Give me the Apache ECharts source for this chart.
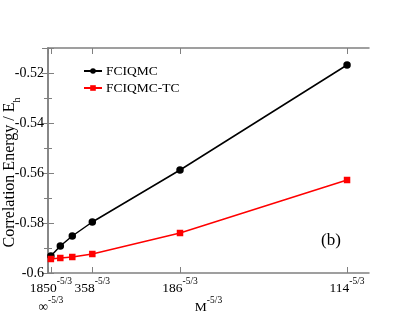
<!DOCTYPE html>
<html><head><meta charset="utf-8">
<script src="https://cdn.jsdelivr.net/npm/echarts@6/dist/echarts.min.js"></script>
<style>html,body{margin:0;padding:0;background:#fff}#c{width:415px;height:321px}</style>
</head><body><div id="c"></div>
<script>
// x positions in units of 1e-4 (M^-5/3 * 1e4)
var xVals = [0.0359, 0.1535, 0.303, 0.553, 1.647, 3.731];
var fciqmc = [-0.5932, -0.5892, -0.5852, -0.5796, -0.5588, -0.5168];
var fciqmcTC = [-0.5944, -0.5940, -0.5936, -0.5924, -0.5840, -0.5628];
var tickVals = [0, 0.0359, 0.553, 1.647, 3.731];
var tickLabels = ['∞', '1850', '358', '186', '114'];

var FONT = '"Liberation Serif", "Times New Roman", serif';
var AX = '#808080';
function pairs(ys){ return ys.map(function(y,i){ return [xVals[i], y]; }); }
var chart = echarts.init(document.getElementById('c'), null, {renderer:'canvas'});
var richTick = {
  b: {fontFamily: FONT, fontSize: 13.5, color: '#000', lineHeight: 19, verticalAlign: 'bottom'},
  s: {fontFamily: FONT, fontSize: 9.5, color: '#000', lineHeight: 12, verticalAlign: 'top'}
};
var labelVals = tickVals.slice(1);
chart.setOption({
  animation: false,
  grid: {left: 48, right: 46, top: 48, bottom: 48, containLabel: false, outerBoundsMode: 'none'},
  title: {text: '(b)', left: 321, top: 232, padding: 0, textStyle: {fontFamily: FONT, fontSize: 17, fontWeight: 'normal', color: '#000'}},
  legend: {
    left: 83, top: 64, padding: 0, orient: 'vertical', itemWidth: 18, itemHeight: 7, itemGap: 3,
    textStyle: {fontFamily: FONT, fontSize: 13.5, color: '#000', padding: [0, 0, 0, -1]},
    data: ['FCIQMC', 'FCIQMC-TC']
  },
  xAxis: [{
    type: 'value', min: 0, max: 4.005, position: 'bottom',
    axisLine: {lineStyle: {color: AX, width: 1.5}},
    axisTick: {inside: true, length: 6, customValues: tickVals, lineStyle: {color: AX, width: 1}},
    splitLine: {show: false},
    axisLabel: {
      customValues: labelVals, margin: 3, color: '#000', hideOverlap: false,
      formatter: function(v){
        var i = tickVals.indexOf(v);
        if (i < 0) return '';
        var s = '{b|' + tickLabels[i] + '}{s|-5/3}';
        if (i === 1) s += '\n{b|' + tickLabels[0] + '}{s|-5/3}';
        return s;
      },
      rich: richTick
    },
    name: '{b|M}{s|-5/3}', nameLocation: 'middle', nameGap: 22, nameMoveOverlap: false,
    nameTextStyle: {rich: richTick}
  }, {
    type: 'value', min: 0, max: 4.005, position: 'top',
    axisLine: {lineStyle: {color: AX, width: 1.5}},
    axisTick: {inside: true, length: 6, customValues: tickVals, lineStyle: {color: AX, width: 1}},
    axisLabel: {show: false}, splitLine: {show: false}
  }],
  yAxis: [{
    type: 'value', min: -0.6, max: -0.51, interval: 0.02, position: 'left',
    axisLine: {show: true, lineStyle: {color: AX, width: 1.5}},
    axisTick: {show: true, inside: true, length: 6, lineStyle: {color: AX, width: 1}},
    minorTick: {show: true, splitNumber: 2, length: 4, lineStyle: {color: AX, width: 1}},
    splitLine: {show: false},
    axisLabel: {showMaxLabel: false, margin: 4, fontFamily: FONT, fontSize: 14, color: '#000',
      formatter: function(v){ return (Math.round(v*100)/100).toString(); }},
    name: '{n|Correlation Energy / E}{h|h}', nameLocation: 'middle', nameGap: 26, nameRotate: 90,
    nameMoveOverlap: false,
    nameTextStyle: {padding: [0, 24, 0, 0], rich: {
      n: {fontFamily: FONT, fontSize: 16, color: '#000', lineHeight: 17, verticalAlign: 'top'},
      h: {fontFamily: FONT, fontSize: 10, color: '#000', lineHeight: 20, verticalAlign: 'bottom'}
    }}
  }, {
    type: 'value', min: -0.6, max: -0.51, interval: 0.02, position: 'right',
    axisLine: {show: true, lineStyle: {color: AX, width: 1.5}},
    axisTick: {show: true, inside: true, length: 6, lineStyle: {color: AX, width: 1}},
    minorTick: {show: true, splitNumber: 2, length: 4, lineStyle: {color: AX, width: 1}},
    splitLine: {show: false}, axisLabel: {show: false}
  }],
  series: [{
    name: 'FCIQMC', type: 'line', data: pairs(fciqmc),
    symbol: 'circle', symbolSize: 7.5, color: '#000',
    lineStyle: {color: '#000', width: 1.5}, itemStyle: {color: '#000'}
  }, {
    name: 'FCIQMC-TC', type: 'line', data: pairs(fciqmcTC),
    symbol: 'rect', symbolSize: 6.5, color: '#ff0000',
    lineStyle: {color: '#ff0000', width: 1.5}, itemStyle: {color: '#ff0000'}
  }]
});
</script></body></html>
